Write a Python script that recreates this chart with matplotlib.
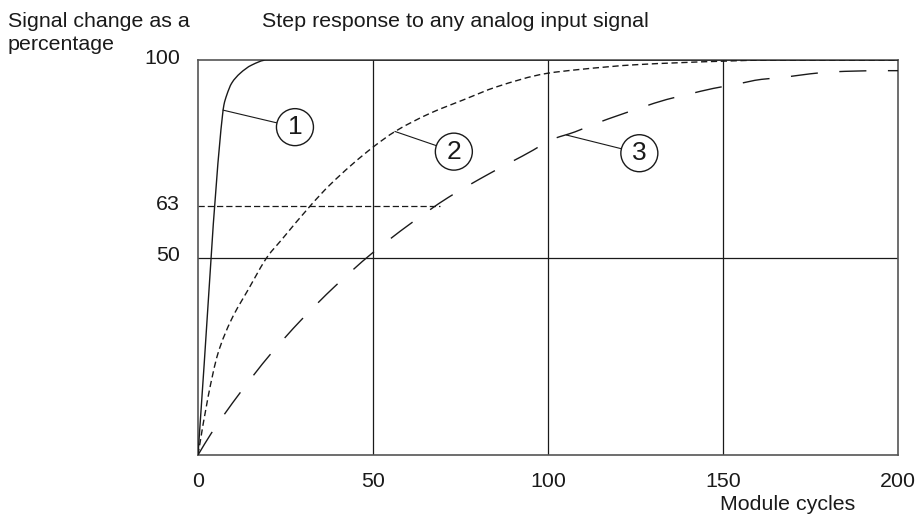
import matplotlib
matplotlib.use("Agg")
import numpy as np
import matplotlib.pyplot as plt
from matplotlib.patches import Ellipse, PathPatch
from matplotlib.path import Path
from matplotlib.transforms import ScaledTranslation

plt.rcParams['font.family'] = ['Liberation Sans', 'DejaVu Sans']

# ---- data ----
x_ticks = [0, 50, 100, 150, 200]
y_ticks = [50, 63, 100]

# curve 1: fast response (solid)
x1 = [0, 7.0, 7.4, 8.2, 9.6, 12.0, 15.3, 19.6, 200]
y1 = [0, 86.0, 88.6, 91.1, 94.1, 96.6, 98.7, 100, 100]

# curve 2: medium response (short dashes)
x2 = [0, 2.9, 5.7, 9.5, 14.3, 20.0, 23.8, 32.5, 37.7, 50.1, 56.3, 66.3, 75.8,
      85.3, 99.6, 109, 125, 150, 165, 200]
y2 = [0, 14.8, 25.7, 34.2, 41.8, 50.4, 54.4, 63.5, 68.4, 78.0, 81.9, 86.5, 89.9,
      93.2, 96.6, 97.6, 98.8, 99.7, 100, 100]

# curve 3: slow response (long dashes)
x3 = [0, 3.8, 11.9, 20.5, 29.5, 39.0, 49.5, 60.6, 71.5, 83.4, 95.8, 100.6, 107.7,
      113.9, 126.8, 133.9, 140, 147.2, 153.4, 161, 167.2, 174.9, 181.5, 188,
      194.9, 200]
y3 = [0, 5.5, 15.6, 25.3, 34.2, 42.6, 50.9, 58.5, 65.2, 71.3, 77.2, 79.7, 81.8,
      84.0, 88.0, 90.0, 91.3, 92.8, 93.8, 95.1, 95.6, 96.5, 97.0, 97.2,
      97.3, 97.3]

ref63_x_end = 69
labels = ['1', '2', '3']
leader_from = [(7.2, 87.3), (56.3, 81.9), (105.3, 81.0)]
circle_at = [(27.7, 83.0), (73.1, 76.8), (126.1, 76.4)]


def smooth_path(xs, ys):
    """Monotone cubic Bezier path through the given points (Fritsch-Carlson tangents)."""
    x = np.asarray(xs, float)
    y = np.asarray(ys, float)
    h = np.diff(x)
    d = np.diff(y) / h
    n = len(x)
    m = np.zeros(n)
    for i in range(1, n - 1):
        if d[i - 1] * d[i] <= 0:
            m[i] = 0
        else:
            w1 = 2 * h[i] + h[i - 1]
            w2 = h[i] + 2 * h[i - 1]
            m[i] = (w1 + w2) / (w1 / d[i - 1] + w2 / d[i])
    m[0] = d[0]
    m[-1] = d[-1]
    verts = [(x[0], y[0])]
    codes = [Path.MOVETO]
    for i in range(n - 1):
        verts += [(x[i] + h[i] / 3, y[i] + m[i] * h[i] / 3),
                  (x[i + 1] - h[i] / 3, y[i + 1] - m[i + 1] * h[i] / 3),
                  (x[i + 1], y[i + 1])]
        codes += [Path.CURVE4] * 3
    return Path(verts, codes)


# ---- figure ----
W, H = 922, 522
fig = plt.figure(figsize=(W / 100, H / 100), dpi=100)
L, R, T, B = 198, 898, 60, 455
ax = fig.add_axes([L / W, 1 - B / H, (R - L) / W, (B - T) / H])
ax.set_xlim(0, 200)
ax.set_ylim(0, 100)

ink = '#1a1a1a'
for s in ax.spines.values():
    s.set_color('#555555')
    s.set_linewidth(1.2)

# grid lines
for xv in [50, 100, 150]:
    ax.axvline(xv, color=ink, lw=0.9, zorder=1)
ax.axhline(50, color=ink, lw=0.9, zorder=1)
ax.plot([0, ref63_x_end], [63, 63], color=ink, lw=0.9, dashes=(5, 2.4), zorder=1)

# curves
styles = [dict(linestyle='-'),
          dict(linestyle=(0, (4.5, 2.6))),
          dict(linestyle=(0, (19.5, 15.5)))]
for (xs, ys), st in zip([(x1, y1), (x2, y2), (x3, y3)], styles):
    ax.add_patch(PathPatch(smooth_path(xs, ys), fill=False, edgecolor=ink,
                           lw=1.0, zorder=3, capstyle='butt', joinstyle='round', **st))

# numbered callouts
rx = 37 / ((R - L) / 200)
ry = 37 / ((B - T) / 100)
for lab, (sx, sy), (cx, cy) in zip(labels, leader_from, circle_at):
    ax.plot([sx, cx], [sy, cy], color=ink, lw=0.8, zorder=4)
    ax.add_patch(Ellipse((cx, cy), rx, ry, facecolor='white', edgecolor=ink,
                         lw=1.0, zorder=5))
    ax.text(cx, cy, lab, ha='center', va='center', fontsize=19, color=ink,
            zorder=6)

fs = 15.4
# ticks
ax.set_xticks(x_ticks)
ax.set_xticklabels([str(v) for v in x_ticks], fontsize=fs, color=ink)
ax.set_yticks(y_ticks)
ax.set_yticklabels([str(v) for v in y_ticks], fontsize=fs, color=ink)
ax.tick_params(axis='x', length=0, pad=12)
ax.tick_params(axis='y', length=0, pad=13)
off = ScaledTranslation(0, 4 / 100, fig.dpi_scale_trans)
for t in ax.get_yticklabels():
    t.set_transform(t.get_transform() + off)

# texts
def ftext(x, y, s, **kw):
    fig.text(x / W, 1 - y / H, s, fontsize=fs, color=ink, va='baseline', **kw)

ftext(8, 27, 'Signal change as a')
ftext(8, 50, 'percentage')
ftext(262, 27, 'Step response to any analog input signal')
ftext(720, 510, 'Module cycles')

fig.savefig('out.png', dpi=100)
